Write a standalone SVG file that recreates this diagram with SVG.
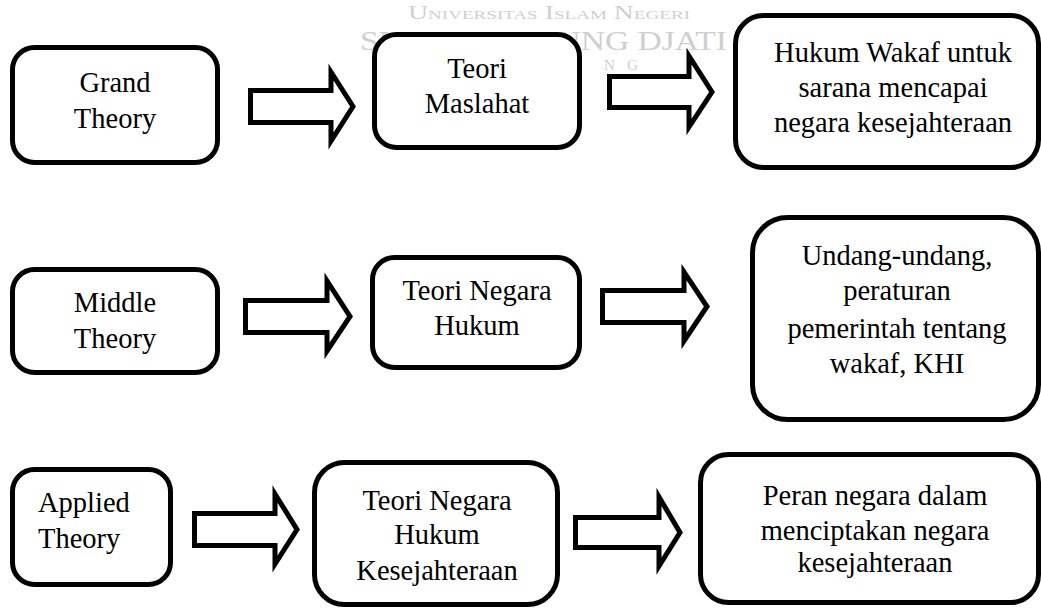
<svg xmlns="http://www.w3.org/2000/svg" width="1041" height="612" viewBox="0 0 1041 612">
<style>
  .box { fill: #ffffff; stroke: #000000; stroke-width: 5; }
  .arrow { fill: #ffffff; stroke: #000000; stroke-width: 5; stroke-linejoin: miter; stroke-miterlimit: 10; }
  text { font-family: 'Liberation Serif', 'Times New Roman', serif; }
  .t { font-size: 28.5px; fill: #000000; text-anchor: middle; }
  .tl { text-anchor: start; }
  .wm { fill: #cfcfcf; }
</style>
<rect x="0" y="0" width="1041" height="612" fill="#ffffff"/>
<g id="watermark">
  <text class="wm" x="408" y="19" font-size="19" style="font-variant: small-caps;" textLength="282" lengthAdjust="spacingAndGlyphs">Universitas Islam Negeri</text>
  <text class="wm" x="360" y="50" font-size="27" textLength="367" lengthAdjust="spacingAndGlyphs">SUNAN GUNUNG DJATI</text>
  <text class="wm" x="604 627" y="70" font-size="15">NG</text>
</g>
<g id="connectors">
  <path class="arrow" d="M250.5,90.5 L331,90.5 L331,72 L353,106.5 L331,141 L331,122.5 L250.5,122.5 Z"/>
  <path class="arrow" d="M609.5,76.5 L689,76.5 L689,56 L712,92 L689,127 L689,107.5 L609.5,107.5 Z"/>
  <path class="arrow" d="M245.5,300.5 L327,300.5 L327,281 L350,316.5 L327,351 L327,332.5 L245.5,332.5 Z"/>
  <path class="arrow" d="M602.5,290.5 L684,290.5 L684,272 L707,306.5 L684,341 L684,322.5 L602.5,322.5 Z"/>
  <path class="arrow" d="M194.5,513.5 L275,513.5 L275,494 L297,529.5 L275,564 L275,545.5 L194.5,545.5 Z"/>
  <path class="arrow" d="M575.5,517.5 L659,517.5 L659,497 L680,532.5 L659,566 L659,547.5 L575.5,547.5 Z"/>
</g>
<g id="grand-theory">
  <rect class="box" x="12.5" y="47.5" width="205" height="115" rx="22"/>
  <text class="t" x="115" y="92">Grand</text>
  <text class="t" x="115" y="128">Theory</text>
</g>
<g id="teori-maslahat">
  <rect class="box" x="374.5" y="34.5" width="205" height="113" rx="22"/>
  <text class="t" x="477" y="78">Teori</text>
  <text class="t" x="477" y="113">Maslahat</text>
</g>
<g id="hukum-wakaf">
  <rect class="box" x="735.5" y="15.5" width="303" height="152" rx="28"/>
  <text class="t" x="893" y="62">Hukum Wakaf untuk</text>
  <text class="t" x="893" y="97">sarana mencapai</text>
  <text class="t" x="893" y="132">negara kesejahteraan</text>
</g>
<g id="middle-theory">
  <rect class="box" x="12.5" y="269.5" width="205" height="103" rx="22"/>
  <text class="t" x="115" y="312">Middle</text>
  <text class="t" x="115" y="348">Theory</text>
</g>
<g id="teori-negara-hukum">
  <rect class="box" x="372.5" y="257.5" width="207" height="110" rx="22"/>
  <text class="t" x="477" y="300">Teori Negara</text>
  <text class="t" x="477" y="335">Hukum</text>
</g>
<g id="undang-undang">
  <rect class="box" x="752.5" y="217.5" width="286" height="202" rx="35"/>
  <text class="t" x="897" y="265">Undang-undang,</text>
  <text class="t" x="897" y="300">peraturan</text>
  <text class="t" x="897" y="338">pemerintah tentang</text>
  <text class="t" x="897" y="373">wakaf, KHI</text>
</g>
<g id="applied-theory">
  <rect class="box" x="12.5" y="469.5" width="158" height="115" rx="22"/>
  <text class="t tl" x="38" y="512">Applied</text>
  <text class="t tl" x="38" y="548">Theory</text>
</g>
<g id="teori-negara-hukum-kesejahteraan">
  <rect class="box" x="314.5" y="462.5" width="243" height="142" rx="30"/>
  <text class="t" x="437" y="510">Teori Negara</text>
  <text class="t" x="437" y="544">Hukum</text>
  <text class="t" x="437" y="580">Kesejahteraan</text>
</g>
<g id="peran-negara">
  <rect class="box" x="700.5" y="454.5" width="338" height="148" rx="28"/>
  <text class="t" x="875" y="505">Peran negara dalam</text>
  <text class="t" x="875" y="540">menciptakan negara</text>
  <text class="t" x="875" y="572">kesejahteraan</text>
</g>
</svg>
